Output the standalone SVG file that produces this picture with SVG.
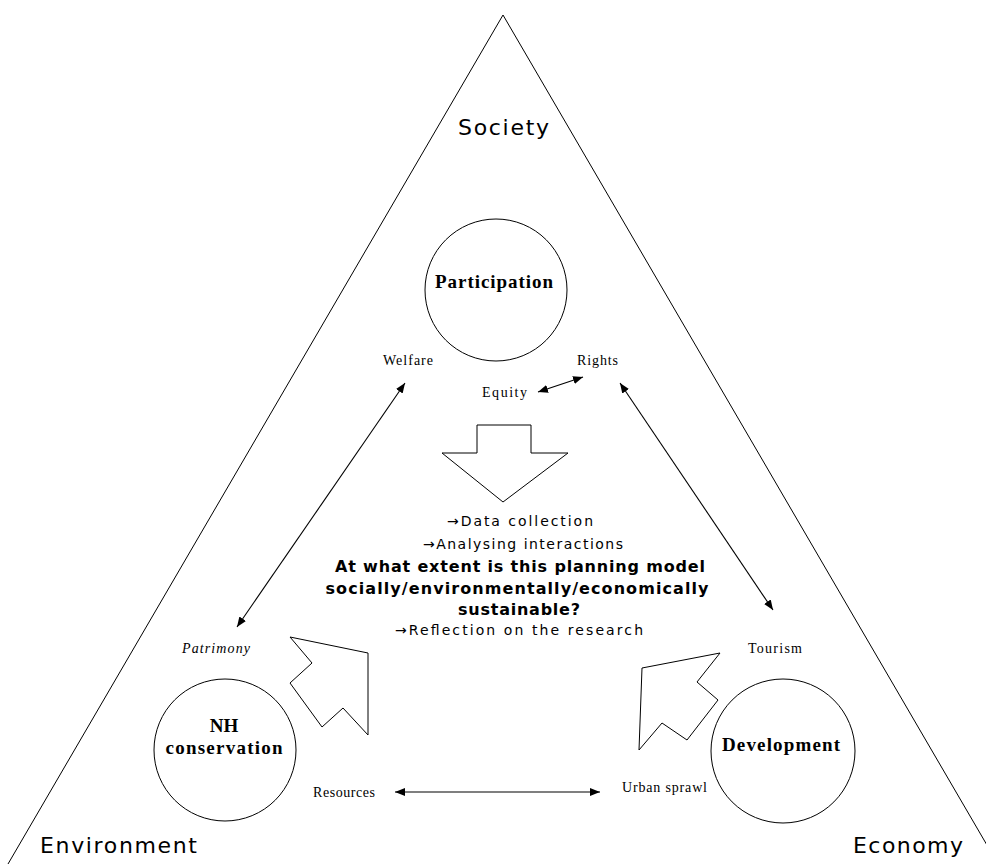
<svg xmlns="http://www.w3.org/2000/svg" width="986" height="864" viewBox="0 0 986 864">
  <defs>
    <marker id="head" viewBox="0 0 10 8" refX="10" refY="4" markerWidth="10" markerHeight="8" markerUnits="userSpaceOnUse" orient="auto-start-reverse">
      <path d="M0,0 L10,4 L0,8 Z" fill="#000"/>
    </marker>
  </defs>
  <style>
    .edge { fill: none; stroke: #000; stroke-width: 1; }
    .conn { fill: none; stroke: #000; stroke-width: 1.1; marker-start: url(#head); marker-end: url(#head); }
    .circle { fill: #fff; stroke: #000; stroke-width: 1; }
    .block { fill: #fff; stroke: #000; stroke-width: 1; stroke-linejoin: miter; }
    .corner { font-family: "DejaVu Sans", "Liberation Sans", sans-serif; font-size: 22px; fill: #000; }
    .small { font-family: "Liberation Serif", "DejaVu Serif", serif; font-size: 14px; fill: #000; }
    .smallit { font-family: "Liberation Serif", "DejaVu Serif", serif; font-size: 14px; font-style: italic; fill: #000; }
    .node { font-family: "Liberation Serif", "DejaVu Serif", serif; font-size: 19px; font-weight: bold; fill: #000; text-anchor: middle; }
    .note { font-family: "DejaVu Sans", "Liberation Sans", sans-serif; font-size: 14px; fill: #000; text-anchor: middle; }
    .question { font-family: "DejaVu Sans", "Liberation Sans", sans-serif; font-size: 16px; font-weight: bold; fill: #000; text-anchor: middle; }
  </style>

  <rect x="0" y="0" width="986" height="864" fill="#fff"/>

  <!-- outer triangle: Society / Environment / Economy -->
  <g id="triangle">
    <polyline class="edge" points="8,864 503,15 998,864"/>
  </g>

  <g id="society"><text class="corner" x="458" y="135" textLength="91" lengthAdjust="spacing">Society</text></g>
  <g id="environment"><text class="corner" x="40" y="853" textLength="157" lengthAdjust="spacing">Environment</text></g>
  <g id="economy"><text class="corner" x="853" y="853" textLength="110" lengthAdjust="spacing">Economy</text></g>

  <!-- pillar nodes -->
  <g id="participation">
    <circle class="circle" cx="496" cy="290" r="71"/>
    <text class="node" x="494" y="288" textLength="118" lengthAdjust="spacing">Participation</text>
  </g>
  <g id="nh-conservation">
    <circle class="circle" cx="225" cy="750" r="71"/>
    <text class="node" x="224" y="732">NH</text>
    <text class="node" x="224" y="754" textLength="117" lengthAdjust="spacing">conservation</text>
  </g>
  <g id="development">
    <circle class="circle" cx="783" cy="751" r="72"/>
    <text class="node" x="781" y="751" textLength="118" lengthAdjust="spacing">Development</text>
  </g>

  <!-- small labels -->
  <g id="welfare"><text class="small" x="383" y="365" textLength="50" lengthAdjust="spacing">Welfare</text></g>
  <g id="rights"><text class="small" x="577" y="365" textLength="41" lengthAdjust="spacing">Rights</text></g>
  <g id="equity"><text class="small" x="482" y="397" textLength="45" lengthAdjust="spacing">Equity</text></g>
  <g id="patrimony"><text class="smallit" x="182" y="653" textLength="68" lengthAdjust="spacing">Patrimony</text></g>
  <g id="tourism"><text class="small" x="748" y="653" textLength="54" lengthAdjust="spacing">Tourism</text></g>
  <g id="resources"><text class="small" x="313" y="797" textLength="62" lengthAdjust="spacing">Resources</text></g>
  <g id="urban-sprawl"><text class="small" x="622" y="792" textLength="85" lengthAdjust="spacing">Urban sprawl</text></g>

  <!-- research block -->
  <g id="research">
    <text class="note" x="520" y="526" textLength="146" lengthAdjust="spacing">→Data collection</text>
    <text class="note" x="523" y="549" textLength="200" lengthAdjust="spacing">→Analysing interactions</text>
    <text class="question" x="520" y="572" textLength="370" lengthAdjust="spacing">At what extent is this planning model</text>
    <text class="question" x="517" y="594" textLength="383" lengthAdjust="spacing">socially/environmentally/economically</text>
    <text class="question" x="519" y="615" textLength="122" lengthAdjust="spacing">sustainable?</text>
    <text class="note" x="519" y="635" textLength="248" lengthAdjust="spacing">→Reflection on the research</text>
  </g>

  <!-- block arrows -->
  <g id="block-down">
    <polygon class="block" points="477,425 531,425 531,453 568,453 503,502 442,453 477,453"/>
  </g>
  <g id="block-left">
    <polygon class="block" points="290,637 368,653 368,735 343,708 322,727 290,683 312,663"/>
  </g>
  <g id="block-right">
    <polygon class="block" points="720,653 642,668 639,750 662,723 687,740 718,700 697,682"/>
  </g>

  <!-- two-way connectors -->
  <g id="connectors">
    <line class="conn" x1="237" y1="627" x2="405" y2="383"/>
    <line class="conn" x1="620" y1="383" x2="773" y2="610"/>
    <line class="conn" x1="538" y1="392" x2="583" y2="377"/>
    <line class="conn" x1="395" y1="792" x2="600" y2="792"/>
  </g>
</svg>
